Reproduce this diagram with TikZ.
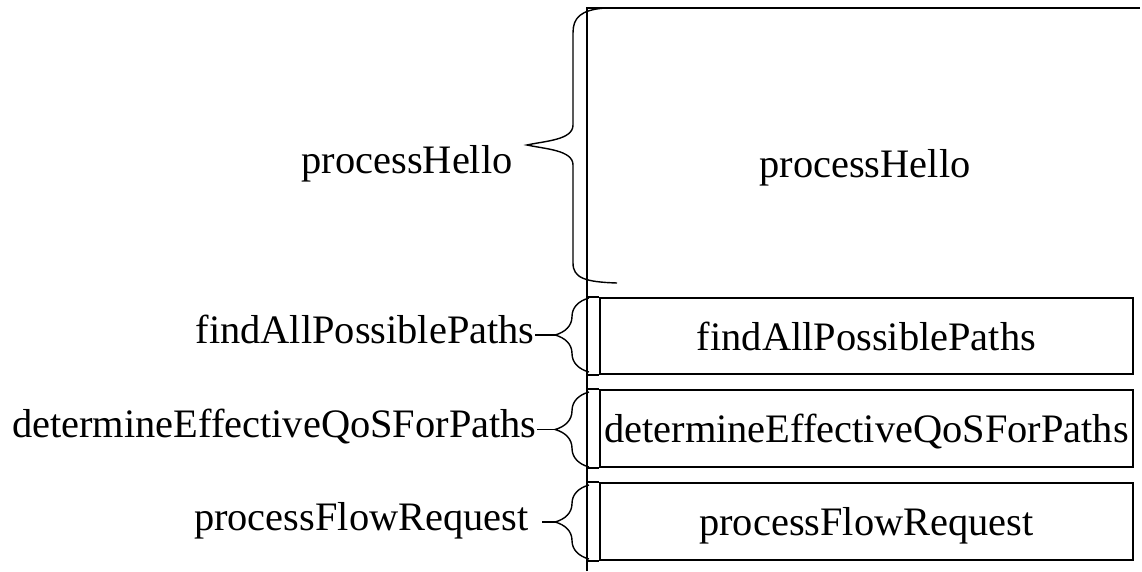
\documentclass[tikz,border=0pt]{standalone}
\usepackage{fontspec}
\setmainfont{Liberation Serif}
\usetikzlibrary{positioning,decorations.pathreplacing}

\begin{document}
\begin{tikzpicture}[
  every node/.style={font=\fontsize{23}{27}\selectfont},
  rowbox/.style={draw, line width=1pt, minimum width=10.66cm, minimum height=1.53cm, inner sep=0pt, text height=20.7pt, text depth=4.6pt},
  lbl/.style={inner sep=0pt, text height=13.8pt, text depth=4.6pt},
  curly/.style={decorate, decoration={brace, amplitude=#1}, line width=0.8pt},
  tick/.style={line width=0.8pt}
]
\useasboundingbox (0,0) rectangle (22.84,11.42);

% spine and the open hello block
\coordinate (top) at (11.74,11.26);
\coordinate (bottom) at (11.74,0);
\draw[line width=1pt] (bottom) -- (top) -- ++(11.06,0);
\node[text height=20.7pt, text depth=4.6pt] (hello) at (17.30,8.16) {processHello};

% method rows
\node[rowbox] (find) at (17.33,4.70) {findAllPossiblePaths};
\node[rowbox] (qos) at (17.33,2.85) {determineEffectiveQoSForPaths};
\node[rowbox] (flow) at (17.33,0.99) {processFlowRequest};
\foreach \r in {find,qos,flow}
  \draw[line width=1pt] (\r.north west) -- (\r.north west -| top)
                        (\r.south west) -- (\r.south west -| top);

% braces and their tips
\coordinate (hellotip) at (10.54,8.52);
\coordinate (findtip) at (11.10,4.72);
\coordinate (qostip) at (11.10,2.83);
\coordinate (flowtip) at (11.10,0.98);
\draw[line width=0.8pt] (12.10,11.26) .. controls (11.60,11.22) and (11.46,11.06) .. (11.46,10.76)
  -- (11.46,8.92) .. controls (11.46,8.62) and (10.90,8.60) .. (hellotip)
  .. controls (10.90,8.44) and (11.46,8.42) .. (11.46,8.12)
  -- (11.46,6.16) .. controls (11.46,5.86) and (11.70,5.78) .. (12.34,5.76);
\draw[curly=0.68cm] (11.78,3.98) -- (11.78,5.46);
\draw[curly=0.68cm] (11.78,2.08) -- (11.78,3.58);
\draw[curly=0.68cm] (11.78,0.24) -- (11.78,1.72);

% labels on the left
\node[lbl, anchor=east] (hellolbl) at (10.26,8.12) {processHello};
\node[lbl, left=0.40cm of findtip] (findlbl) {findAllPossiblePaths};
\node[lbl, left=0.36cm of qostip] (qoslbl) {determineEffectiveQoSForPaths};
\node[lbl, left=0.52cm of flowtip] (flowlbl) {processFlowRequest};
\draw[tick] (findlbl) -- (findtip);
\draw[tick] (qoslbl) -- (qostip);
\draw[tick, shorten <=0.26cm] (flowlbl) -- (flowtip);
\end{tikzpicture}
\end{document}
